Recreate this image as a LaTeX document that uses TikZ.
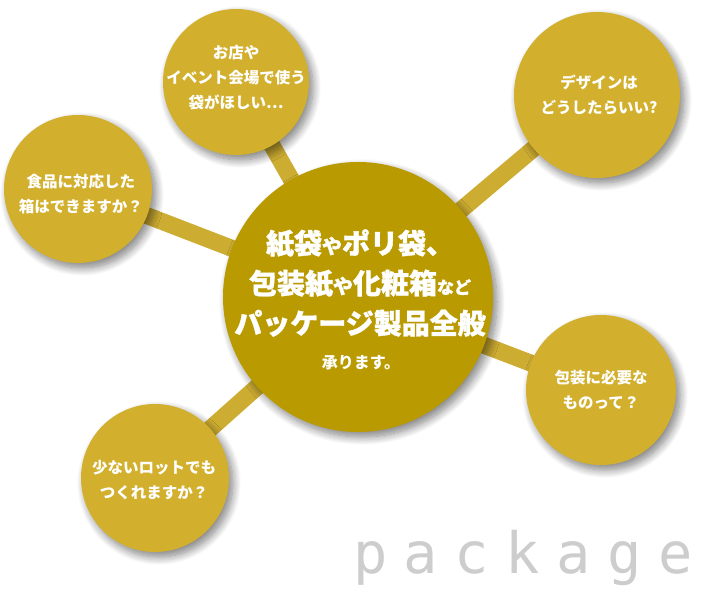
\documentclass[tikz,border=0pt]{standalone}
\usepackage{fontspec}
\newfontfamily\jp{Noto Sans CJK JP}
\newfontfamily\jpheavy[FakeBold=1.2]{Noto Sans CJK JP}
\newfontfamily\pkgfont[LetterSpace=29]{DejaVu Sans Mono}
\usetikzlibrary{shadows.blur}
\definecolor{smallc}{RGB}{210,176,46}
\definecolor{hubc}{RGB}{185,154,0}
\definecolor{linkc}{RGB}{205,172,50}
\definecolor{pkgc}{RGB}{205,205,205}
\pgfdeclarelayer{bg}
\pgfsetlayers{bg,main}
\begin{document}
\begin{tikzpicture}[x=1pt,y=-1pt,
  shad/.style={blur shadow={shadow xshift=4pt, shadow yshift=-5pt, shadow blur radius=8pt, shadow opacity=50, shadow blur steps=12}},
  bubble/.style={circle, fill=smallc, inner sep=0pt, draw=none, shad},
  hub/.style={circle, fill=hubc, inner sep=0pt, draw=none, shad},
  link/.style={draw=linkc, line width=17pt},
  qtext/.style={text=white, align=center, inner sep=0pt, font=\jp\bfseries\fontsize{15.5}{25}\selectfont},
  stext/.style={text=white, align=center, inner sep=0pt, font=\jp\bfseries\fontsize{16}{25}\selectfont},
  htext/.style={text=white, align=center, inner sep=0pt, font=\jpheavy\bfseries\fontsize{28}{40}\selectfont},
  pkg/.style={text=pkgc, inner sep=0pt, font=\pkgfont\fontsize{57}{60}\selectfont}
]
\useasboundingbox (0,0) rectangle (702,593);

% circles
\node[bubble, minimum size=146pt] (qtop) at (236,82) {};
\node[bubble, minimum size=166pt] (qtr) at (597,95) {};
\node[bubble, minimum size=148pt] (qleft) at (78,189) {};
\node[bubble, minimum size=150pt] (qright) at (601,390) {};
\node[bubble, minimum size=148pt] (qbl) at (155,478) {};
\node[hub, minimum size=270pt] (hub) at (358,297) {};

% connectors
\begin{pgfonlayer}{bg}
\draw[link] (hub.center) -- (qtop.center);
\draw[link] (hub.center) -- (qtr.center);
\draw[link] (hub.center) -- (qleft.center);
\draw[link] (hub.center) -- (qright.center);
\draw[link] (hub.center) -- (qbl.center);
\end{pgfonlayer}

% texts
\node[qtext] (ttop) at (236,77.5) {お店や\\イベント会場で使う\\袋がほしい{\addfontfeature{CharacterWidth=Full}…}};
\node[qtext] (ttr) at (599,94.5) {デザインは\\どうしたらいい?};
\node[qtext] (tleft) at (81,194.5) {食品に対応した\\箱はできますか？};
\node[qtext] (tright) at (601,390) {包装に必要な\\ものって？};
\node[qtext] (tbl) at (154,480.5) {少ないロットでも\\つくれますか？};

\node[htext] (head) at (360,283) {紙袋{\fontsize{20}{40}\selectfont や}ポリ袋、\\包装紙{\fontsize{20}{40}\selectfont や}化粧箱{\fontsize{17}{40}\selectfont など}\\パッケージ製品全般};
\node[stext] (sub) at (361,363) {承ります。};

\node[pkg, anchor=base west] (word) at (353,573) {package};
\end{tikzpicture}
\end{document}
